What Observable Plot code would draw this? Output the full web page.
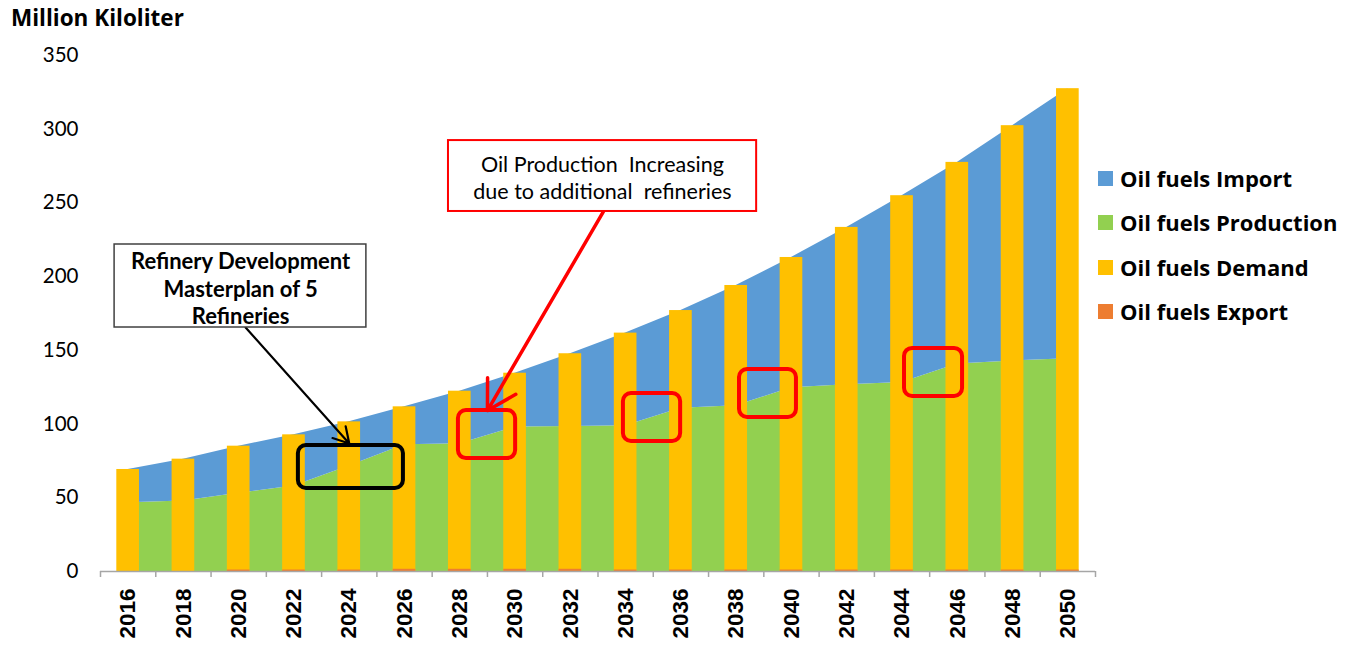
<!DOCTYPE html>
<html>
<head>
<meta charset="utf-8">
<script src="https://cdn.jsdelivr.net/npm/d3@7"></script>
<script src="https://cdn.jsdelivr.net/npm/@observablehq/plot@0.6"></script>
<style>
  html, body { margin: 0; padding: 0; background: #fff; }
  #wrap { position: relative; width: 1362px; height: 650px; overflow: hidden; }
  #title { position: absolute; left: 11px; top: 2px; font: bold 22.5px "Open Sans", Lato, sans-serif; color: #000; white-space: nowrap; }
  .leg { position: absolute; left: 1098px; height: 30px; display: flex; align-items: center; font: bold 22px "Open Sans", Lato, sans-serif; color: #000; white-space: nowrap; }
  .leg span.sw { display: inline-block; width: 15px; height: 15px; margin-right: 7px; }
</style>
</head>
<body>
<div id="wrap">
  <div id="chart"></div>
  <div id="title">Million Kiloliter</div>
  <div id="legend"></div>
</div>
<script>
// ---- data ----
const years = [2016, 2018, 2020, 2022, 2024, 2026, 2028, 2030, 2032, 2034, 2036, 2038, 2040, 2042, 2044, 2046, 2048, 2050];
const demand = [69.2, 76.2, 85.0, 92.7, 101.5, 111.7, 122.3, 134.5, 147.7, 161.7, 177.0, 194.0, 213.0, 233.4, 254.9, 277.5, 302.4, 327.5];
const production = [46.7, 47.9, 53.0, 58.0, 71.5, 86.0, 86.7, 98.0, 98.4, 98.8, 110.8, 112.4, 124.6, 126.6, 128.2, 140.8, 142.8, 144.3];
const imports = [22.5, 28.3, 32.0, 34.7, 30.0, 25.7, 35.6, 36.5, 49.3, 62.9, 66.2, 81.6, 88.4, 106.8, 126.7, 136.7, 159.6, 183.2];
const exportsV = [0, 0, 1.0, 1.0, 1.0, 1.5, 1.5, 1.5, 1.5, 1.0, 1.0, 1.0, 1.0, 1.0, 1.0, 1.0, 1.0, 1.0];
const seriesNames = ["Oil fuels Import", "Oil fuels Production", "Oil fuels Demand", "Oil fuels Export"];
const seriesColors = ["#5B9BD5", "#92D050", "#FFC000", "#ED7D31"];
const yTicks = [0, 50, 100, 150, 200, 250, 300, 350];
const boundaryTicks = [2015, 2017, 2019, 2021, 2023, 2025, 2027, 2029, 2031, 2033, 2035, 2037, 2039, 2041, 2043, 2045, 2047, 2049, 2051];

// ---- annotations (in data coordinates) ----
const blackNote = {text: "Refinery Development\nMasterplan of 5\nRefineries", x1: 2015.51, x2: 2024.62, y1: 165.5, y2: 221.8, tx: 2020.07, ty: 192.5};
const redNote = {text: "Oil Production  Increasing\ndue to additional  refineries", x1: 2027.59, x2: 2038.74, y1: 244.2, y2: 292.3, tx: 2033.16, ty: 267.5};
const blackArrow = [{x1: 2020.25, y1: 165.5, x2: 2024.0, y2: 86.8}];
const redArrow = [{x1: 2033.2, y1: 244.2, x2: 2029.0, y2: 109.2}];
const blackMarks = [{x1: 2022.16, x2: 2025.96, y1: 56.3, y2: 85.5}];
const redMarks = [
  {x1: 2027.95, x2: 2030.02, y1: 76.6, y2: 109.2},
  {x1: 2033.92, x2: 2035.99, y1: 88.2, y2: 120.7},
  {x1: 2038.12, x2: 2040.18, y1: 104.5, y2: 137.0},
  {x1: 2044.09, x2: 2046.19, y1: 118.7, y2: 151.3}
];

const rows = years.map((year, i) => ({
  year, demand: demand[i], production: production[i], imports: imports[i], exportV: exportsV[i]
}));
const [cImport, cProd, cDemand, cExport] = seriesColors;
const halfBar = 0.41;

const chart = Plot.plot({
  width: 1362,
  height: 650,
  marginLeft: 100,
  marginRight: 267,
  marginTop: 55,
  marginBottom: 79,
  x: {domain: [2015, 2051], axis: null},
  y: {domain: [0, 350], axis: null},
  style: {fontFamily: "Lato, 'Open Sans', sans-serif", background: "transparent", color: "#000"},
  marks: [
    Plot.areaY(rows, {x: "year", y1: 0, y2: "production", fill: cProd}),
    Plot.areaY(rows, {x: "year", y1: "production", y2: d => d.production + d.imports, fill: cImport}),
    Plot.rectY(rows, {x1: d => d.year - halfBar, x2: d => d.year + halfBar, y1: 0, y2: "demand", fill: cDemand}),
    Plot.rectY(rows, {x1: d => d.year - halfBar, x2: d => d.year + halfBar, y1: 0, y2: "exportV", fill: cExport}),
    Plot.ruleY([0], {stroke: "#a6a6a6", strokeWidth: 1.5}),
    Plot.axisX(boundaryTicks, {tickFormat: () => "", tickSize: 6, stroke: "#a6a6a6", strokeWidth: 1.5, label: null}),
    Plot.text(years, {x: d => d, text: d => String(d), frameAnchor: "bottom", rotate: -90, textAnchor: "end", lineAnchor: "middle", dy: 17, fontSize: 22.5, fontWeight: "bold", fontFamily: "'Liberation Sans', Arial, sans-serif", fill: "#000"}),
    Plot.axisY(yTicks, {tickSize: 0, tickPadding: 22, fontSize: 20.5, label: null, fill: "#000"}),
    // annotations
    Plot.rect(blackMarks, {x1: "x1", x2: "x2", y1: "y1", y2: "y2", rx: 8, fill: "none", stroke: "#000", strokeWidth: 4}),
    Plot.rect(redMarks, {x1: "x1", x2: "x2", y1: "y1", y2: "y2", rx: 8, fill: "none", stroke: "#FF0000", strokeWidth: 4}),
    Plot.arrow(blackArrow, {x1: "x1", y1: "y1", x2: "x2", y2: "y2", stroke: "#000", strokeWidth: 2.2, headLength: 12, bend: 0}),
    Plot.arrow(redArrow, {x1: "x1", y1: "y1", x2: "x2", y2: "y2", stroke: "#FF0000", strokeWidth: 3.5, headLength: 14, bend: 0}),
    Plot.rect([blackNote], {x1: "x1", x2: "x2", y1: "y1", y2: "y2", fill: "#fff", stroke: "#404040", strokeWidth: 1.5}),
    Plot.text([blackNote], {x: "tx", y: "ty", text: "text", fontSize: 22, fontWeight: "bold", lineHeight: 1.26, fill: "#000", textAnchor: "middle", lineAnchor: "middle"}),
    Plot.rect([redNote], {x1: "x1", x2: "x2", y1: "y1", y2: "y2", fill: "#fff", stroke: "#FF0000", strokeWidth: 2}),
    Plot.text([redNote], {x: "tx", y: "ty", text: "text", fontSize: 21.5, lineHeight: 1.24, fill: "#000", textAnchor: "middle", lineAnchor: "middle"})
  ]
});
document.getElementById("chart").appendChild(chart);

// legend
const legendTops = [178, 222, 267, 311];
const legend = document.getElementById("legend");
seriesNames.forEach((name, i) => {
  const row = document.createElement("div");
  row.className = "leg";
  row.style.top = (legendTops[i] - 15) + "px";
  const sw = document.createElement("span");
  sw.className = "sw";
  sw.style.background = seriesColors[i];
  row.appendChild(sw);
  row.appendChild(document.createTextNode(name));
  legend.appendChild(row);
});
</script>
</body>
</html>
